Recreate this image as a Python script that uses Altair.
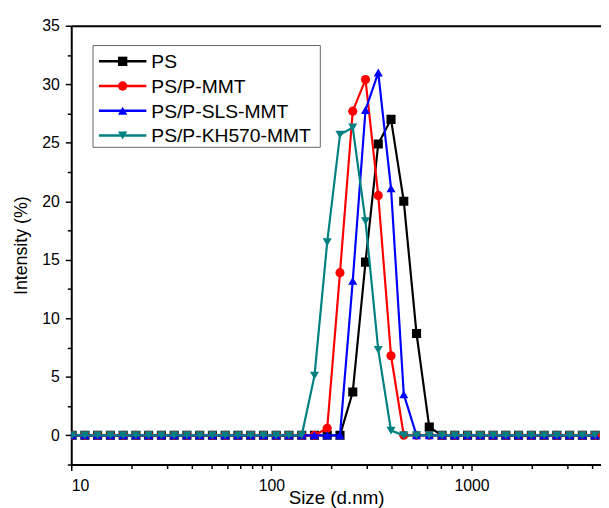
import altair as alt
import pandas as pd

# Size bins (d.nm)
sizes = [10.10, 11.70, 13.54, 15.69, 18.17, 21.04, 24.36, 28.21, 32.67, 37.84,
         43.82, 50.75, 58.77, 68.06, 78.82, 91.28, 105.7, 122.4, 141.8, 164.2,
         190.1, 220.2, 255.0, 295.3, 342.0, 396.1, 458.7, 531.2, 615.1, 712.4,
         825.0, 955.4, 1106, 1281, 1484, 1718, 1990, 2305, 2669, 3091, 3580, 4145]

ps = [0, 0, 0, 0, 0, 0, 0, 0, 0, 0, 0, 0, 0, 0, 0, 0, 0, 0, 0, 0,
      0, 0, 3.7, 14.8, 24.9, 27.0, 20.0, 8.7, 0.7, 0,
      0, 0, 0, 0, 0, 0, 0, 0, 0, 0, 0, 0]
ps_pmmt = [0, 0, 0, 0, 0, 0, 0, 0, 0, 0, 0, 0, 0, 0, 0, 0, 0, 0, 0, 0,
           0.6, 13.9, 27.7, 30.4, 20.5, 6.8, 0, 0, 0, 0,
           0, 0, 0, 0, 0, 0, 0, 0, 0, 0, 0, 0]
ps_sls = [0, 0, 0, 0, 0, 0, 0, 0, 0, 0, 0, 0, 0, 0, 0, 0, 0, 0, 0, 0,
          0, 0, 13.2, 27.8, 31.0, 21.1, 3.5, 0, 0, 0,
          0, 0, 0, 0, 0, 0, 0, 0, 0, 0, 0, 0]
ps_kh570 = [0, 0, 0, 0, 0, 0, 0, 0, 0, 0, 0, 0, 0, 0, 0, 0, 0, 0, 0, 5.1,
            16.5, 25.7, 26.3, 18.3, 7.3, 0.4, 0, 0, 0, 0,
            0, 0, 0, 0, 0, 0, 0, 0, 0, 0, 0, 0]

names = ["PS", "PS/P-MMT", "PS/P-SLS-MMT", "PS/P-KH570-MMT"]
series = [ps, ps_pmmt, ps_sls, ps_kh570]
colors = ["#000000", "#FF0000", "#0000FF", "#008080"]
shapes = ["square", "circle", "triangle-up", "triangle-down"]

x_major = [10, 100, 1000]
x_minor = [20, 30, 40, 50, 60, 70, 80, 90, 200, 300, 400, 500, 600, 700, 800, 900,
           2000, 3000, 4000]
y_major = [0, 5, 10, 15, 20, 25, 30, 35]
y_minor = [-2.5, 2.5, 7.5, 12.5, 17.5, 22.5, 27.5, 32.5]

FONT = "Liberation Sans"
xscale = alt.Scale(type="log", domain=[10, 4436], nice=False)
yscale = alt.Scale(domain=[-2.5, 35], nice=False, zero=False)

df0 = pd.DataFrame({"size": sizes, "value": ps})


def ax_chart(xaxis, yaxis):
    return alt.Chart(df0).mark_point(opacity=0).encode(
        x=alt.X("size:Q", scale=xscale, axis=xaxis),
        y=alt.Y("value:Q", scale=yscale, axis=yaxis),
    )


common = dict(domainColor="black", tickColor="black", grid=False,
              labelFont=FONT, titleFont=FONT, labelColor="black", titleColor="black")

axis_layers = [
    ax_chart(
        alt.Axis(orient="bottom", values=x_major, format="d", title="Size (d.nm)",
                 tickSize=6, tickWidth=1.5, domainWidth=2, labelFontSize=16,
                 labelPadding=7, titleFontSize=19, titleFontWeight="normal",
                 titlePadding=-5, **common),
        alt.Axis(orient="left", values=y_major, title="Intensity (%)",
                 tickSize=6, tickWidth=1.5, domainWidth=2, labelFontSize=16,
                 labelPadding=6, titleFontSize=18, titleFontWeight="normal",
                 titlePadding=11, **common),
    ),
    ax_chart(
        alt.Axis(orient="bottom", values=x_minor, labels=False, title=None,
                 tickSize=4, tickWidth=1.5, domain=False, **common),
        alt.Axis(orient="left", values=y_minor, labels=False, title=None,
                 tickSize=4, tickWidth=1.5, domain=False, **common),
    ),
    ax_chart(
        alt.Axis(orient="top", labels=False, ticks=False, title=None,
                 domainWidth=2, **common),
        None,
    ),
]

data_layers = []
for name, vals, col, shp in zip(names, series, colors, shapes):
    d = pd.DataFrame({"size": sizes, "value": vals})
    base = alt.Chart(d).encode(
        x=alt.X("size:Q", scale=xscale, axis=None),
        y=alt.Y("value:Q", scale=yscale, axis=None),
    )
    data_layers.append(base.mark_line(color=col, strokeWidth=2.2, clip=True))
    data_layers.append(base.mark_point(filled=True, shape=shp, size=85, color=col,
                                       opacity=1, clip=True))

# Legend box
one = pd.DataFrame({"a": [0]})
legend_layers = [
    alt.Chart(one).mark_rect(fill="white", stroke="#666666", strokeWidth=1).encode(
        x=alt.value(22), x2=alt.value(252), y=alt.value(20), y2=alt.value(123))
]
for i, (name, col, shp) in enumerate(zip(names, colors, shapes)):
    yy = 36 + 25 * i
    legend_layers.append(alt.Chart(one).mark_rule(color=col, strokeWidth=2.5).encode(
        x=alt.value(28), x2=alt.value(76), y=alt.value(yy)))
    legend_layers.append(alt.Chart(one).mark_point(filled=True, shape=shp, size=90,
                                                   color=col, opacity=1).encode(
        x=alt.value(52), y=alt.value(yy)))
    legend_layers.append(alt.Chart(one).mark_text(
        text=name, font=FONT, fontSize=19.5, align="left", baseline="middle",
        color="black").encode(x=alt.value(81), y=alt.value(yy + 1)))

chart = alt.layer(*axis_layers, *data_layers, *legend_layers).resolve_axis(
    x="independent", y="independent"
).properties(
    width=536, height=444,
    padding={"left": 5, "top": 7, "right": 0, "bottom": 0},
    background="white",
).configure_view(stroke=None)

chart.save("out.html", embed_options={"renderer": "svg", "actions": False})
